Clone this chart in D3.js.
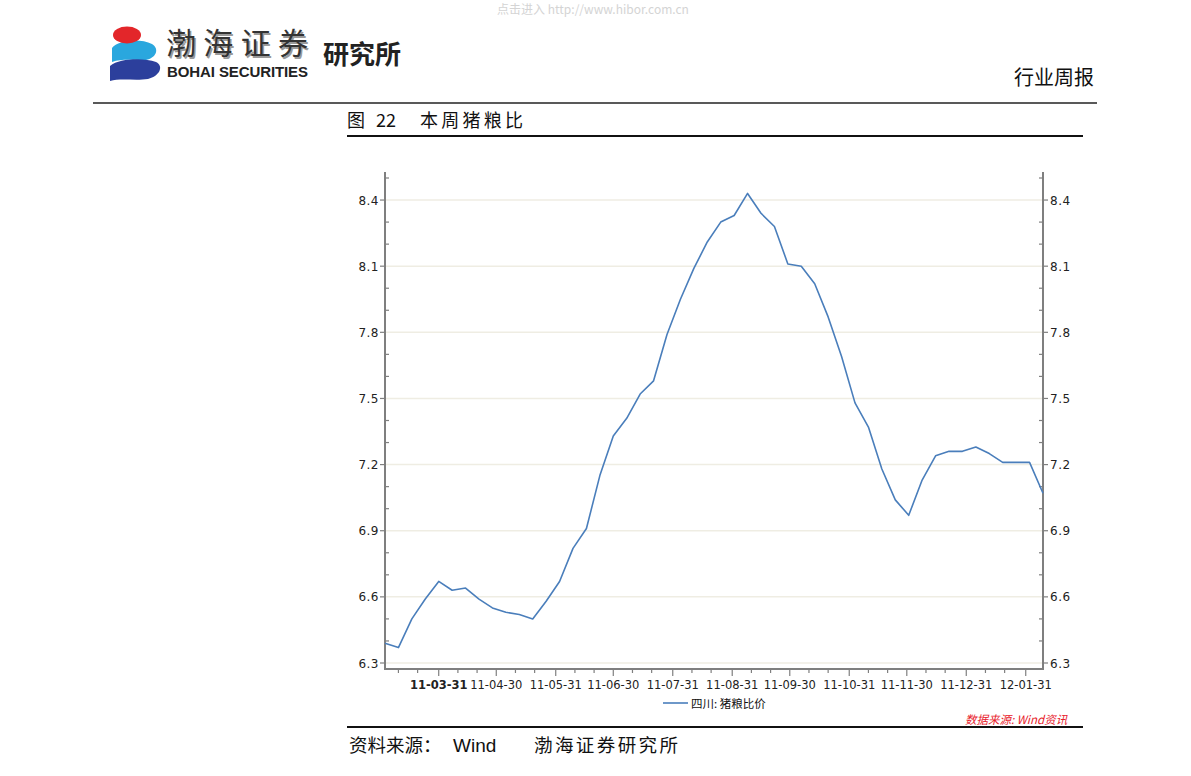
<!DOCTYPE html>
<html><head><meta charset="utf-8">
<script src="https://cdn.jsdelivr.net/npm/d3@7"></script>
<style>
html,body{margin:0;padding:0;background:#fff;}
svg{display:block;}
</style></head>
<body>
<svg id="c" width="1191" height="776"></svg>
<script>
const dates = ["2011-03-03","2011-03-10","2011-03-17","2011-03-24","2011-03-31","2011-04-07","2011-04-14","2011-04-21","2011-04-28",
"2011-05-05","2011-05-12","2011-05-19","2011-05-26","2011-06-02","2011-06-09","2011-06-16","2011-06-23","2011-06-30",
"2011-07-07","2011-07-14","2011-07-21","2011-07-28","2011-08-04","2011-08-11","2011-08-18","2011-08-25",
"2011-09-01","2011-09-08","2011-09-15","2011-09-22","2011-09-29","2011-10-06","2011-10-13","2011-10-20","2011-10-27",
"2011-11-03","2011-11-10","2011-11-17","2011-11-24","2011-12-01","2011-12-08","2011-12-15","2011-12-22","2011-12-29",
"2012-01-05","2012-01-12","2012-01-19","2012-01-26","2012-02-02","2012-02-09"];
const ratio = [6.39,6.37,6.50,6.59,6.67,6.63,6.64,6.59,6.55,6.53,6.52,6.50,6.58,6.67,6.82,6.91,7.15,7.33,7.41,7.52,7.58,
7.79,7.95,8.09,8.21,8.30,8.33,8.43,8.34,8.28,8.11,8.10,8.02,7.87,7.69,7.48,7.37,7.18,7.04,6.97,7.13,
7.24,7.26,7.26,7.28,7.25,7.21,7.21,7.21,7.07];
const yTicks = [6.3,6.6,6.9,7.2,7.5,7.8,8.1,8.4];
const yMinor = [6.4,6.5,6.7,6.8,7.0,7.1,7.3,7.4,7.6,7.7,7.9,8.0,8.2,8.3,8.5];
const xMajor = ["2011-03-31","2011-04-30","2011-05-31","2011-06-30","2011-07-31","2011-08-31","2011-09-30","2011-10-31","2011-11-30","2011-12-31","2012-01-31"];
const xMinor = ["2011-03-10","2011-03-20","2011-04-10","2011-04-20","2011-05-10","2011-05-20","2011-06-10","2011-06-20","2011-07-10","2011-07-20",
"2011-08-10","2011-08-20","2011-09-10","2011-09-20","2011-10-10","2011-10-20","2011-11-10","2011-11-20","2011-12-10","2011-12-20",
"2012-01-10","2012-01-20"];
const seriesName = "四川: 猪粮比价";

const parse = d3.timeParse("%Y-%m-%d");
const fmt = d3.timeFormat("%y-%m-%d");
const data = dates.map((d,i)=>({date:parse(d), v:ratio[i]}));

const svg = d3.select("#c");
const L = 385, R = 1043, T = 178, B = 663, AXB = 669;
const x = d3.scaleTime().domain(d3.extent(data,d=>d.date)).range([L,R]);
const y = d3.scaleLinear().domain([6.3,8.5]).range([B,T]);

// ---------- header ----------
svg.append("text").attr("x",593).attr("y",14).attr("text-anchor","middle")
  .attr("font-family","Noto Sans CJK SC").attr("font-size",12).attr("fill","#d4d4d4")
  .text("点击进入 http://www.hibor.com.cn");

const logo = svg.append("g");
logo.append("path").attr("d","M112,48 C118,40 140,38 152,44 C160,49 156,58 146,60 C138,61 124,58 112,62 Z").attr("fill","#2aa7de");
logo.append("path").attr("d","M110,66 C120,58 144,58 156,62 C164,66 160,76 148,79 C136,81 120,78 110,81 Z").attr("fill","#2c3f9c");
logo.append("ellipse").attr("cx",127).attr("cy",35).attr("rx",14).attr("ry",8.5).attr("fill","#e3262a");
logo.append("text").attr("x",166).attr("y",54).attr("font-family","Noto Sans CJK SC").attr("font-size",30)
  .attr("fill","#9a9a9a").attr("textLength",142).text("渤海证券").attr("transform","translate(1.5,1.5)");
logo.append("text").attr("x",166).attr("y",54).attr("font-family","Noto Sans CJK SC").attr("font-size",30)
  .attr("fill","#333").attr("textLength",142).text("渤海证券");
logo.append("text").attr("x",167).attr("y",77).attr("font-family","Liberation Sans").attr("font-weight","bold")
  .attr("font-size",15).attr("fill","#222").attr("textLength",141).text("BOHAI SECURITIES");
logo.append("text").attr("x",323).attr("y",64).attr("font-family","Noto Sans CJK SC").attr("font-weight","bold")
  .attr("font-size",26).attr("fill","#222").text("研究所");

svg.append("text").attr("x",1094).attr("y",85).attr("text-anchor","end")
  .attr("font-family","Noto Sans CJK SC").attr("font-size",20).attr("fill","#111").text("行业周报");
svg.append("line").attr("x1",93).attr("x2",1097).attr("y1",103).attr("y2",103).attr("stroke","#222").attr("stroke-width",1.5);

const ttl = svg.append("g").attr("font-family","Noto Sans CJK SC").attr("font-size",18).attr("fill","#111");
ttl.append("text").attr("x",347).attr("y",127).text("图");
ttl.append("text").attr("x",376).attr("y",127).text("22");
ttl.append("text").attr("x",420).attr("y",127).attr("textLength",103).text("本周猪粮比");
svg.append("line").attr("x1",347).attr("x2",1083).attr("y1",136).attr("y2",136).attr("stroke","#111").attr("stroke-width",2);

// ---------- grid ----------
svg.append("g").selectAll("line").data(yTicks).join("line")
  .attr("x1",L).attr("x2",R).attr("y1",d=>y(d)).attr("y2",d=>y(d))
  .attr("stroke","#efede3").attr("stroke-width",1.5);

const axCol = "#7f7f7f";
const tickFont = "DejaVu Sans";

// left axis
const la = svg.append("g").attr("transform",`translate(${L},0)`);
la.append("line").attr("y1",T-6).attr("y2",AXB).attr("stroke",axCol).attr("stroke-width",2);
la.selectAll(".mj").data(yTicks).join("line").attr("x1",-5).attr("x2",0).attr("y1",d=>y(d)).attr("y2",d=>y(d)).attr("stroke",axCol).attr("stroke-width",1.2);
la.selectAll(".mn").data(yMinor).join("line").attr("x1",0).attr("x2",4).attr("y1",d=>y(d)).attr("y2",d=>y(d)).attr("stroke",axCol).attr("stroke-width",1.2);
la.selectAll("text").data(yTicks).join("text").attr("x",-6).attr("y",d=>y(d)+4.5).attr("text-anchor","end")
  .attr("font-family",tickFont).attr("font-size",12).attr("fill","#222").attr("letter-spacing",0.5).text(d3.format(".1f"));

// right axis
const ra = svg.append("g").attr("transform",`translate(${R},0)`);
ra.append("line").attr("y1",T-6).attr("y2",AXB).attr("stroke",axCol).attr("stroke-width",2);
ra.selectAll(".mj").data(yTicks).join("line").attr("x1",0).attr("x2",5).attr("y1",d=>y(d)).attr("y2",d=>y(d)).attr("stroke",axCol).attr("stroke-width",1.2);
ra.selectAll(".mn").data(yMinor).join("line").attr("x1",-4).attr("x2",0).attr("y1",d=>y(d)).attr("y2",d=>y(d)).attr("stroke",axCol).attr("stroke-width",1.2);
ra.selectAll("text").data(yTicks).join("text").attr("x",7).attr("y",d=>y(d)+4.5).attr("text-anchor","start")
  .attr("font-family",tickFont).attr("font-size",12).attr("fill","#222").attr("letter-spacing",0.5).text(d3.format(".1f"));

// bottom axis
const ba = svg.append("g").attr("transform",`translate(0,${AXB})`);
ba.append("line").attr("x1",L-1).attr("x2",R+1).attr("stroke",axCol).attr("stroke-width",2);
ba.selectAll(".mj").data(xMajor.map(parse)).join("line").attr("x1",d=>x(d)).attr("x2",d=>x(d)).attr("y1",0).attr("y2",7).attr("stroke",axCol).attr("stroke-width",1.2);
ba.selectAll(".mn").data(xMinor.map(parse)).join("line").attr("x1",d=>x(d)).attr("x2",d=>x(d)).attr("y1",0).attr("y2",4).attr("stroke",axCol).attr("stroke-width",1.2);
ba.selectAll("text").data(xMajor.map(parse)).join("text").attr("x",d=>x(d)).attr("y",20).attr("text-anchor","middle")
  .attr("font-family",tickFont).attr("font-size",11.5).attr("fill","#222")
  .attr("font-weight",(d,i)=>i===0?"bold":"normal").text(fmt);

// line
svg.append("path").datum(data)
  .attr("d",d3.line().x(d=>x(d.date)).y(d=>y(d.v)))
  .attr("fill","none").attr("stroke","#4a7ebb").attr("stroke-width",1.6).attr("stroke-linejoin","round");

// legend
svg.append("line").attr("x1",663).attr("x2",688).attr("y1",703).attr("y2",703).attr("stroke","#4a7ebb").attr("stroke-width",1.6);
svg.append("text").attr("x",691).attr("y",707.5).attr("font-family","Noto Sans CJK SC").attr("font-size",11.5).attr("fill","#111").text(seriesName);

// source (red)
svg.append("text").attr("x",965).attr("y",724).attr("font-family","Noto Sans CJK SC").attr("font-style","italic")
  .attr("font-size",11.5).attr("fill","#e8202a").text("数据来源: Wind资讯");
svg.append("line").attr("x1",347).attr("x2",1083).attr("y1",727).attr("y2",727).attr("stroke","#111").attr("stroke-width",2);

// footer
const ft = svg.append("g").attr("font-family","Noto Sans CJK SC").attr("font-size",18.5).attr("fill","#111");
ft.append("text").attr("x",349).attr("y",752).text("资料来源：");
ft.append("text").attr("x",453).attr("y",752).attr("font-family","Liberation Sans").attr("font-size",19).text("Wind");
ft.append("text").attr("x",534).attr("y",752).attr("textLength",144).text("渤海证券研究所");
</script>
</body></html>
